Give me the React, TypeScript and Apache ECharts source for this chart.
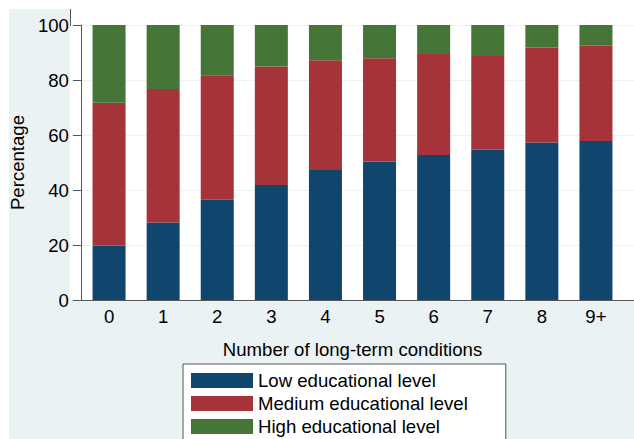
import React, { useEffect, useRef } from "react";
import * as echarts from "echarts";

const categories = ["0", "1", "2", "3", "4", "5", "6", "7", "8", "9+"];
const lowLevel = [19.8, 28.2, 36.5, 41.8, 47.3, 50.4, 52.7, 54.6, 57.3, 57.8];
const mediumLevel = [51.9, 48.5, 45.2, 43.1, 39.9, 37.5, 36.8, 34.1, 34.5, 34.7];
const highLevel = [28.3, 23.3, 18.3, 15.1, 12.8, 12.1, 10.5, 11.3, 8.2, 7.5];
const seriesNames = ["Low educational level", "Medium educational level", "High educational level"];
const seriesColors = ["#10456e", "#a6323a", "#457637"];

const FONT = "'Liberation Sans', Arial, Helvetica, sans-serif";
const FS = 18.6;
const BG = "#eaf2f3";
const AXIS = "#555555";

export default function App() {
  const ref = useRef<HTMLDivElement>(null);
  useEffect(() => {
    if (!ref.current) return;
    const chart = echarts.init(ref.current, null, { renderer: "svg" });
    const values = [lowLevel, mediumLevel, highLevel];
    chart.setOption({
      animation: false,
      backgroundColor: "#ffffff",
      textStyle: { fontFamily: FONT },
      graphic: [
        { type: "rect", z: -10, shape: { x: 9, y: 9, width: 61, height: 430 }, style: { fill: BG } },
        { type: "rect", z: -10, shape: { x: 70, y: 300, width: 564, height: 139 }, style: { fill: BG } },
        { type: "line", z: 5, shape: { x1: 70.5, y1: 9, x2: 70.5, y2: 26 }, style: { stroke: AXIS, lineWidth: 1 } },
      ],
      grid: [
        { left: 70, right: 0, top: 25, bottom: 139 },
        { left: 82, right: 11, top: 25, bottom: 139 },
      ],
      xAxis: [
        {
          gridIndex: 0,
          type: "value",
          min: 0,
          max: 1,
          axisLine: { show: true, onZero: false, lineStyle: { color: AXIS, width: 1 } },
          axisTick: { show: false },
          axisLabel: { show: false },
          splitLine: { show: false },
        },
        {
          gridIndex: 1,
          type: "category",
          data: categories,
          axisLine: { show: false },
          axisTick: { show: false },
          axisLabel: { color: "#000", fontSize: FS, margin: 7, fontFamily: FONT },
          name: "Number of long-term conditions",
          nameLocation: "middle",
          nameGap: 40,
          nameTextStyle: { color: "#000", fontSize: FS, fontFamily: FONT },
        },
      ],
      yAxis: [
        {
          gridIndex: 0,
          type: "value",
          min: 0,
          max: 100,
          interval: 20,
          axisLine: { show: true, lineStyle: { color: AXIS, width: 1 } },
          axisTick: { show: true, length: 8, lineStyle: { color: AXIS } },
          axisLabel: { color: "#000", fontSize: FS, margin: 12, fontFamily: FONT },
          splitLine: { show: true, lineStyle: { color: BG, width: 1 } },
          name: "Percentage",
          nameLocation: "middle",
          nameGap: 44,
          nameTextStyle: { color: "#000", fontSize: FS, fontFamily: FONT },
        },
        {
          gridIndex: 1,
          type: "value",
          min: 0,
          max: 100,
          interval: 20,
          axisLine: { show: false },
          axisTick: { show: false },
          axisLabel: { show: false },
          splitLine: { show: false },
        },
      ],
      legend: {
        orient: "vertical",
        left: 183,
        top: 364,
        height: 80,
        itemWidth: 62,
        itemHeight: 15,
        itemGap: 4,
        padding: [7, 38, 12, 8],
        backgroundColor: "#ffffff",
        borderColor: "#555555",
        borderWidth: 1,
        icon: "rect",
        selectedMode: false,
        textStyle: { color: "#000", fontSize: FS, fontFamily: FONT },
        data: seriesNames,
      },
      series: seriesNames.map((name, i) => ({
        name,
        type: "bar",
        stack: "total",
        xAxisIndex: 1,
        yAxisIndex: 1,
        barWidth: 33,
        itemStyle: { color: seriesColors[i] },
        data: values[i],
      })),
    });
    return () => chart.dispose();
  }, []);
  return <div ref={ref} style={{ position: "absolute", left: 0, top: 0, width: 634, height: 439 }} />;
}
